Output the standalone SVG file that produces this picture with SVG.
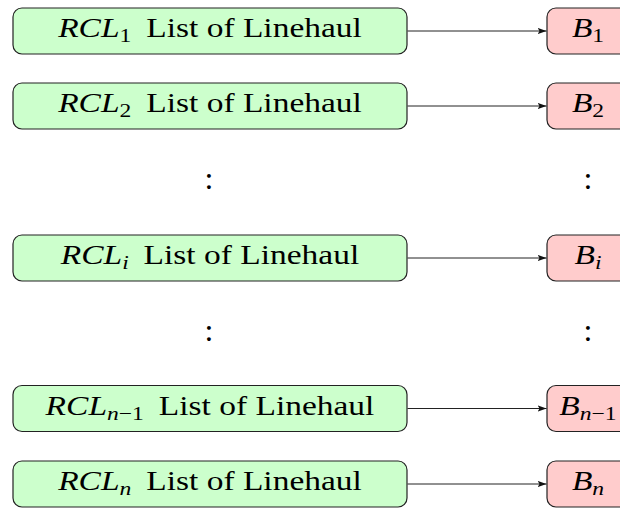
<svg xmlns="http://www.w3.org/2000/svg" width="620" height="508" viewBox="0 0 620 508" font-family="'Liberation Serif', 'DejaVu Serif', serif">
  <style>
    .rcl rect { fill: #ccffcc; stroke: #222; stroke-width: 1.2; }
    .bin rect { fill: #ffcccc; stroke: #222; stroke-width: 1.2; }
    text { font-family: "Liberation Serif", "DejaVu Serif", serif; font-size: 27px; fill: #000; }
    .it { font-style: italic; }
    .sub { font-size: 19px; }
    .vd { font-size: 32px; }
    .edge { stroke: #222; stroke-width: 1; fill: none; marker-end: url(#tip); }
  </style>
  <defs>
    <marker id="tip" markerUnits="userSpaceOnUse" markerWidth="10" markerHeight="8" refX="9" refY="4" orient="auto">
      <path d="M0,0.8 L9,4 L0,7.2 L2,4 Z" fill="#111"/>
    </marker>
  </defs>

  <!-- route candidate lists (left column) -->
  <g id="rcl1" class="rcl">
    <rect x="13" y="8" width="394" height="46" rx="9"/>
    <text transform="translate(210,37) scale(1.24,1)" text-anchor="middle"><tspan class="it">RCL</tspan><tspan class="sub" dy="5">1</tspan><tspan dy="-5" dx="12">List of Linehaul</tspan></text>
  </g>
  <g id="rcl2" class="rcl">
    <rect x="13" y="83" width="394" height="46" rx="9"/>
    <text transform="translate(210,112) scale(1.24,1)" text-anchor="middle"><tspan class="it">RCL</tspan><tspan class="sub" dy="5">2</tspan><tspan dy="-5" dx="12">List of Linehaul</tspan></text>
  </g>
  <g id="rcli" class="rcl">
    <rect x="13" y="235" width="394" height="46" rx="9"/>
    <text transform="translate(210,264) scale(1.24,1)" text-anchor="middle"><tspan class="it">RCL</tspan><tspan class="sub it" dy="5">i</tspan><tspan dy="-5" dx="12">List of Linehaul</tspan></text>
  </g>
  <g id="rcln1" class="rcl">
    <rect x="13" y="385.5" width="394" height="46" rx="9"/>
    <text transform="translate(210,414.5) scale(1.24,1)" text-anchor="middle"><tspan class="it">RCL</tspan><tspan class="sub" dy="5"><tspan class="it">n</tspan>−1</tspan><tspan dy="-5" dx="12">List of Linehaul</tspan></text>
  </g>
  <g id="rcln" class="rcl">
    <rect x="13" y="461" width="394" height="46" rx="9"/>
    <text transform="translate(210,490) scale(1.24,1)" text-anchor="middle"><tspan class="it">RCL</tspan><tspan class="sub it" dy="5">n</tspan><tspan dy="-5" dx="12">List of Linehaul</tspan></text>
  </g>

  <!-- bins (right column) -->
  <g id="b1" class="bin">
    <rect x="547" y="8" width="82" height="46" rx="9"/>
    <text transform="translate(588,37) scale(1.24,1)" text-anchor="middle"><tspan class="it">B</tspan><tspan class="sub" dy="5">1</tspan></text>
  </g>
  <g id="b2" class="bin">
    <rect x="547" y="83" width="82" height="46" rx="9"/>
    <text transform="translate(588,112) scale(1.24,1)" text-anchor="middle"><tspan class="it">B</tspan><tspan class="sub" dy="5">2</tspan></text>
  </g>
  <g id="bi" class="bin">
    <rect x="547" y="235" width="82" height="46" rx="9"/>
    <text transform="translate(588,264) scale(1.24,1)" text-anchor="middle"><tspan class="it">B</tspan><tspan class="sub it" dy="5">i</tspan></text>
  </g>
  <g id="bn1" class="bin">
    <rect x="547" y="385.5" width="82" height="46" rx="9"/>
    <text transform="translate(588,414.5) scale(1.24,1)" text-anchor="middle"><tspan class="it">B</tspan><tspan class="sub" dy="5"><tspan class="it">n</tspan>−1</tspan></text>
  </g>
  <g id="bn" class="bin">
    <rect x="547" y="461" width="82" height="46" rx="9"/>
    <text transform="translate(588,490) scale(1.24,1)" text-anchor="middle"><tspan class="it">B</tspan><tspan class="sub it" dy="5">n</tspan></text>
  </g>

  <!-- vertical ellipses -->
  <g id="gaps">
    <text class="vd" x="209" y="189" text-anchor="middle">:</text>
    <text class="vd" x="209" y="341" text-anchor="middle">:</text>
    <text class="vd" x="588" y="189" text-anchor="middle">:</text>
    <text class="vd" x="588" y="341" text-anchor="middle">:</text>
  </g>

  <!-- connectors -->
  <g id="edges">
    <line class="edge" x1="407.5" y1="31" x2="546.5" y2="31"/>
    <line class="edge" x1="407.5" y1="106" x2="546.5" y2="106"/>
    <line class="edge" x1="407.5" y1="258" x2="546.5" y2="258"/>
    <line class="edge" x1="407.5" y1="408.5" x2="546.5" y2="408.5"/>
    <line class="edge" x1="407.5" y1="484" x2="546.5" y2="484"/>
  </g>
</svg>
